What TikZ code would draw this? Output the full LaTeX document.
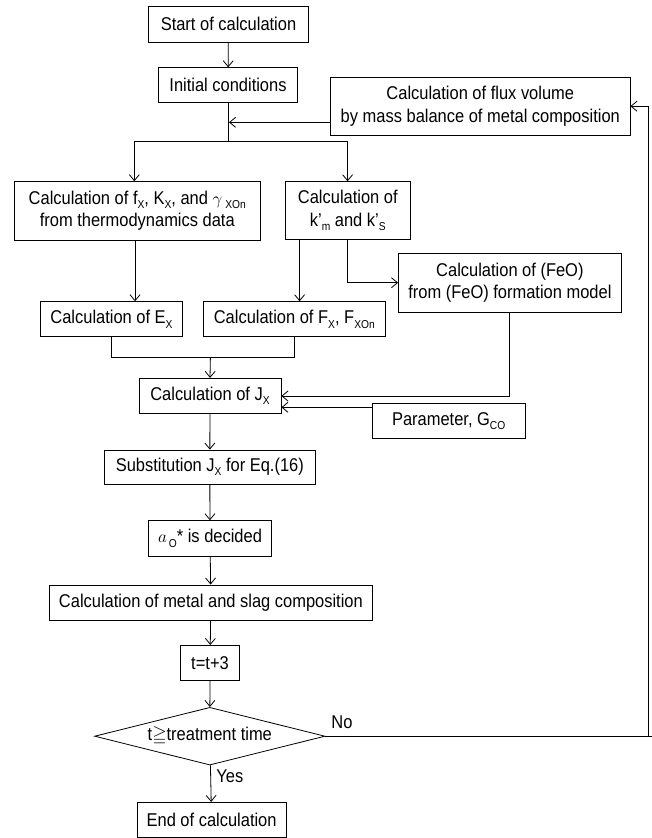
\documentclass[tikz,border=0pt]{standalone}
\usepackage{amssymb}
\usepackage{fontspec}
\setmainfont[FakeStretch=0.89]{Liberation Sans}
\usetikzlibrary{arrows.meta,shapes.geometric}
\newcommand\sbs[1]{\raisebox{-0.45ex}{\fontsize{11.5}{11.5}\selectfont #1}}
\begin{document}
\begin{tikzpicture}[x=1pt,y=-1pt,line width=0.8pt,
  box/.style={draw,rectangle,inner sep=0pt,align=center,font=\fontsize{18.5}{22.4}\selectfont},
  arr/.style={-{Straight Barb[length=6pt,width=10pt]}},
  lbl/.style={font=\fontsize{18.5}{20}\selectfont,inner sep=0pt}]
\useasboundingbox (0,0) rectangle (652,838);
\node[box,minimum width=160pt,minimum height=36pt] (start) at (228.5,24.2) {Start of calculation};
\node[box,minimum width=139pt,minimum height=35pt] (init) at (228,85.2) {Initial conditions};
\node[box,minimum width=299.4pt,minimum height=57.7pt] (flux) at (480.3,106.2) {Calculation of flux volume\\by mass balance of metal composition};
\node[box,minimum width=245.4pt,minimum height=58.3pt] (A) at (137.3,210.8) {Calculation of f\sbs{X}, K\sbs{X}, and $\gamma$\,\sbs{XOn}\\from thermodynamics data};
\node[box,minimum width=125.2pt,minimum height=57.6pt] (B) at (347.8,210.5) {Calculation of\\k’\sbs{m} and k’\sbs{S}};
\node[box,minimum width=222.9pt,minimum height=59pt] (feo) at (509.9,282.8) {Calculation of (FeO)\\from (FeO) formation model};
\node[box,minimum width=142.3pt,minimum height=35pt] (E) at (111.5,319.2) {Calculation of E\sbs{X}};
\node[box,minimum width=181.7pt,minimum height=35pt] (F) at (294.3,319.2) {Calculation of F\sbs{X}, F\sbs{XOn}};
\node[box,minimum width=142pt,minimum height=35pt] (J) at (210,395.8) {Calculation of J\sbs{X}};
\node[box,minimum width=152.7pt,minimum height=35pt] (par) at (448.7,420.8) {Parameter, G\sbs{CO}};
\node[box,minimum width=211.2pt,minimum height=34pt] (sub) at (209.8,467) {Substitution J\sbs{X} for Eq.(16)};
\node[box,minimum width=123.6pt,minimum height=35.3pt] (ao) at (210,538.3) {$a$\sbs{\,O}* is decided};
\node[box,minimum width=323.7pt,minimum height=35.7pt] (metal) at (210.9,602.8) {Calculation of metal and slag composition};
\node[box,minimum width=59pt,minimum height=34.7pt] (t) at (210,662.7) {t=t+3};
\node[box,diamond,aspect=4,minimum width=230.4pt,minimum height=57.7pt] (dec) at (209.8,736.2) {t$\geqq$treatment time};
\node[box,minimum width=149.3pt,minimum height=35pt] (end) at (211.6,819.8) {End of calculation};
% coordinates
\coordinate (split) at (228,141.7);
\coordinate (sl) at (134.3,141.7);
\coordinate (sr) at (347.6,141.7);
\coordinate (fa) at (229,122.3);
\coordinate (ea) at (135,240);
\coordinate (fb) at (299.6,239.3);
\coordinate (gb) at (347.6,239.3);
\coordinate (merge) at (210.4,357.3);
\coordinate (feoj) at (509.6,396);
\coordinate (parj) at (372.3,407.3);
\coordinate (loop) at (648,736.2);
\coordinate (edge) at (652,736.2);
% connectors
\draw[arr] (start) -- (init);
\draw (init.south) -- (split);
\draw (sl) -- (sr);
\draw[arr] (sl) -- (sl |- A.north);
\draw[arr] (sr) -- (sr |- B.north);
\draw[arr] (flux.west |- fa) -- (fa);
\draw[arr] (ea) -- (ea |- E.north);
\draw[arr] (fb) -- (fb |- F.north);
\draw[arr] (gb) |- (feo.west |- 0,282.7);
\draw (E.south -| 111.2,0) |- (merge) -| (F.south -| 294.7,0);
\draw[arr] (merge) -- (J.north);
\draw[arr] (feo.south -| feoj) |- (J.east |- feoj);
\draw[arr] (parj) -- (J.east |- parj);
\draw[arr] (J) -- (sub);
\draw[arr] (sub) -- (ao);
\draw[arr] (ao) -- (metal);
\draw[arr] (metal) -- (t);
\draw[arr] (t) -- (dec);
\draw[arr] (dec) -- (end);
\draw (dec.east) -- (edge);
\draw[arr] (loop) |- (flux.east);
\node[lbl,anchor=south west] (no) at (331,729) {No};
\node[lbl,anchor=west] (yes) at (216,776.7) {Yes};
\end{tikzpicture}
\end{document}
